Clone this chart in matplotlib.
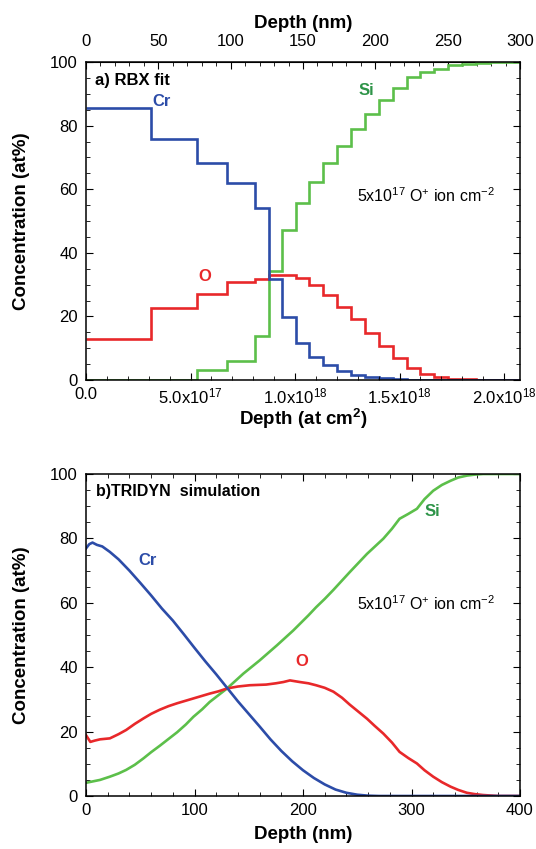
import matplotlib
matplotlib.use("Agg")
import matplotlib.pyplot as plt
import numpy as np
from matplotlib.ticker import MultipleLocator, FixedLocator, FixedFormatter

plt.rcParams['font.family'] = ['Liberation Sans', 'DejaVu Sans']
plt.rcParams['mathtext.fontset'] = 'custom'
plt.rcParams['mathtext.rm'] = 'Liberation Sans'
plt.rcParams['mathtext.it'] = 'Liberation Sans:italic'
plt.rcParams['mathtext.bf'] = 'Liberation Sans:bold'

# ---- a) RBX fit: layer edges (in 1e17 at/cm2) and layer concentrations (at%)
rbx_edges = [0, 3.09, 5.29, 6.73, 8.08, 8.77, 9.36, 10.05, 10.69, 11.35, 12.01,
             12.68, 13.34, 14.01, 14.70, 15.34, 15.98, 16.64, 17.33, 17.97,
             18.66, 19.33, 19.99, 20.76]
rbx_cr = [85.5, 75.9, 68.3, 61.8, 54.2, 31.9, 19.9, 11.7, 7.3, 4.7, 2.8, 1.6,
          1.0, 0.6, 0.3, 0.15, 0.1, 0.05, 0, 0, 0, 0, 0]
rbx_o = [13.0, 22.7, 27.0, 30.8, 31.8, 32.9, 33.1, 32.1, 29.8, 26.7, 23.0, 19.1,
         14.9, 10.7, 6.8, 3.7, 1.8, 0.8, 0.4, 0.2, 0.1, 0, 0]
rbx_si = [0, 0, 3.3, 6.1, 13.7, 34.3, 47.1, 55.7, 62.3, 68.1, 73.5, 78.8, 83.6,
          88.0, 91.9, 95.2, 96.7, 97.9, 99.0, 99.5, 99.8, 100, 100]

# ---- b) TRIDYN simulation (depth in nm, concentrations in at%)
cr_depth = [0, 3, 6, 10, 15, 22, 30, 40, 50, 60, 70, 80, 90, 100, 110, 120, 130,
            140, 150, 160, 170, 180, 190, 200, 210, 220, 230, 240, 250, 260, 270,
            280, 400]
cr_conc = [76.9, 78.2, 78.7, 78.0, 77.5, 75.8, 73.5, 70.0, 66.2, 62.3, 58.2, 54.5,
           50.3, 46.0, 41.8, 37.8, 33.6, 29.4, 25.5, 21.6, 17.6, 14.0, 10.8, 8.0,
           5.6, 3.6, 2.0, 1.0, 0.4, 0.1, 0, 0, 0]
o_depth = [0, 4, 8, 13, 22, 30, 37, 45, 53, 60, 68, 76, 84, 92, 99, 107, 114, 122,
           130, 140, 151, 166, 175, 182, 188, 197, 205, 212, 220, 228, 236, 243,
           251, 259, 266, 274, 282, 289, 297, 305, 312, 320, 328, 336, 343, 351,
           358, 366, 380, 400]
o_conc = [18.9, 16.8, 17.2, 17.6, 17.9, 19.2, 20.5, 22.4, 24.1, 25.5, 26.8, 27.9,
          28.8, 29.6, 30.3, 31.1, 31.8, 32.5, 33.4, 34.0, 34.4, 34.6, 35.0, 35.4,
          35.9, 35.4, 35.0, 34.4, 33.6, 32.4, 30.5, 28.4, 26.2, 24.0, 21.8, 19.4,
          16.6, 13.7, 11.8, 10.1, 8.0, 6.0, 4.3, 2.9, 1.9, 1.0, 0.6, 0.3, 0, 0]
si_depth = [0, 13, 22, 30, 37, 45, 53, 60, 68, 76, 84, 92, 99, 107, 114, 122, 130,
            145, 160, 176, 191, 205, 212, 220, 228, 243, 259, 274, 282, 289, 297,
            305, 312, 320, 328, 336, 343, 351, 358, 366, 400]
si_conc = [4.1, 5.0, 6.0, 7.0, 8.1, 9.7, 11.7, 13.6, 15.6, 17.7, 19.8, 22.2,
           24.6, 26.9, 29.2, 31.3, 33.4, 38.0, 42.1, 46.8, 51.4, 56.1, 58.6, 61.2,
           64.0, 69.5, 75.2, 79.9, 83.0, 86.1, 87.6, 89.2, 92.2, 94.8, 96.6, 97.9,
           98.9, 99.5, 99.8, 100, 100]

blue = '#2c4ca8'
red = '#e8282a'
green = '#5cbf4a'
si_txt = '#2e9448'
lw = 1.9

NM_TO_AT = 2.076e18 / 300.0  # at/cm2 per nm (top/bottom axis relation)

fig = plt.figure(figsize=(5.36, 8.49), dpi=100)
ax1 = fig.add_axes([86 / 536, 1 - 380 / 849, 434 / 536, 318 / 849])
ax2 = fig.add_axes([86 / 536, 1 - 796 / 849, 434 / 536, 322 / 849])

edges = np.array(rbx_edges) * 1e17
ax1.stairs(rbx_si, edges, color=green, lw=lw, baseline=None)
ax1.stairs(rbx_o, edges, color=red, lw=lw, baseline=None)
ax1.stairs(rbx_cr, edges, color=blue, lw=lw, baseline=None)
ax1.set_xlim(0, 300 * NM_TO_AT)
ax1.set_ylim(0, 100)

xt = [0, 0.5e18, 1.0e18, 1.5e18, 2.0e18]
ax1.xaxis.set_major_locator(FixedLocator(xt))
ax1.xaxis.set_major_formatter(FixedFormatter(
    ['0.0', r'5.0x10$^{17}$', r'1.0x10$^{18}$', r'1.5x10$^{18}$', r'2.0x10$^{18}$']))
ax1.xaxis.set_minor_locator(MultipleLocator(1e17))
ax1.set_xlabel(r'Depth (at cm$^{\mathbf{2}}$)', fontsize=13.5, fontweight='bold', labelpad=0)

top = ax1.secondary_xaxis('top', functions=(lambda a: a / NM_TO_AT, lambda n: n * NM_TO_AT))
top.xaxis.set_major_locator(MultipleLocator(50))
top.xaxis.set_minor_locator(MultipleLocator(10))
top.set_xlabel('Depth (nm)', fontsize=13.5, fontweight='bold', labelpad=5)
top.tick_params(which='both', direction='in', labelsize=12, pad=9)
top.tick_params(which='major', length=5)
top.tick_params(which='minor', length=3)

ax1.text(0.043e18, 94.3, 'a) RBX fit', fontsize=12, fontweight='bold', va='center')
ax1.text(3.16e17, 87.7, 'Cr', fontsize=12, fontweight='bold', color=blue, va='center')
ax1.text(5.69e17, 32.5, 'O', fontsize=12, fontweight='bold', color=red, ha='center', va='center')
ax1.text(1.339e18, 91.1, 'Si', fontsize=12, fontweight='bold', color=si_txt, ha='center', va='center')
ax1.text(1.298e18, 58.1, r'5x10$^{17}$ O$^{+}$ ion cm$^{-2}$', fontsize=11.5, va='center')

ax2.plot(si_depth, si_conc, color=green, lw=lw)
ax2.plot(o_depth, o_conc, color=red, lw=lw)
ax2.plot(cr_depth, cr_conc, color=blue, lw=lw)
ax2.set_xlim(0, 400)
ax2.set_ylim(0, 100)
ax2.xaxis.set_major_locator(MultipleLocator(100))
ax2.xaxis.set_minor_locator(MultipleLocator(20))
ax2.set_xlabel('Depth (nm)', fontsize=13.5, fontweight='bold', labelpad=6)

ax2.text(9.2, 94.5, 'b)TRIDYN  simulation', fontsize=11.5, fontweight='bold', va='center')
ax2.text(56.5, 73.1, 'Cr', fontsize=12, fontweight='bold', color=blue, ha='center', va='center')
ax2.text(198.8, 41.7, 'O', fontsize=12, fontweight='bold', color=red, ha='center', va='center')
ax2.text(319.5, 88.3, 'Si', fontsize=12, fontweight='bold', color=si_txt, ha='center', va='center')
ax2.text(249.5, 59.8, r'5x10$^{17}$ O$^{+}$ ion cm$^{-2}$', fontsize=11.5, va='center')

for ax in (ax1, ax2):
    ax.yaxis.set_major_locator(MultipleLocator(20))
    ax.yaxis.set_minor_locator(MultipleLocator(5))
    ax.set_ylabel('Concentration (at%)', fontsize=13.5, fontweight='bold', labelpad=14)
    ax.tick_params(which='both', direction='in', right=True, labelsize=12)
    ax.tick_params(axis='y', pad=6)
    ax.tick_params(axis='x', pad=5)
    ax.tick_params(which='major', length=5)
    ax.tick_params(which='minor', length=3)
    for s in ax.spines.values():
        s.set_linewidth(1.1)
ax2.tick_params(which='both', top=True)

fig.savefig('out.png', dpi=100)
